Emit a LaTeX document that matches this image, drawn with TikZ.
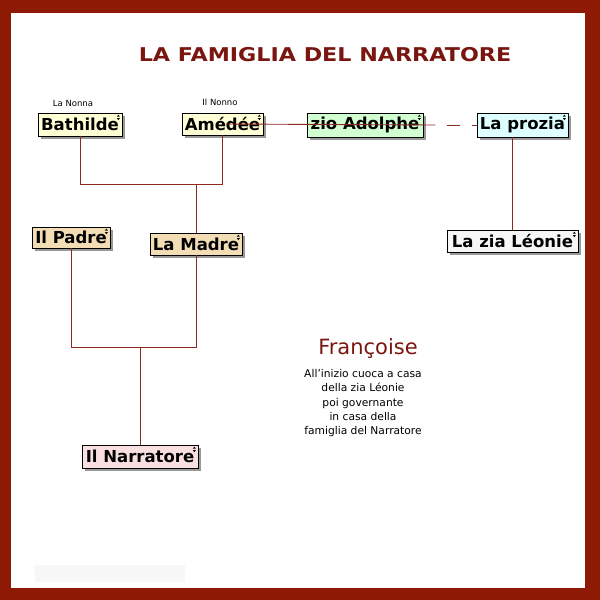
\documentclass[tikz,border=0pt]{standalone}
\usepackage{fontspec}
\setmainfont{DejaVu Sans}
\usetikzlibrary{shadows}
\definecolor{framered}{HTML}{8E1A06}
\definecolor{titlered}{HTML}{7A1610}
\definecolor{linkred}{HTML}{8B2A20}
\definecolor{fyellow}{HTML}{FFFFD6}
\definecolor{fgreen}{HTML}{D2FFD2}
\definecolor{fcyan}{HTML}{DEFFFF}
\definecolor{fwheat}{HTML}{F3DDB5}
\definecolor{fwhite}{HTML}{F6F6F6}
\definecolor{fpink}{HTML}{F9DFDF}
\newcommand\rzicon[1]{%
  \fill ([xshift=-4pt,yshift=-2pt]#1.north east) -- ++(-1.5,2) -- ++(3,0) -- cycle;
  \fill ([xshift=-4pt,yshift=-7.5pt]#1.north east) -- ++(-1.5,-2) -- ++(3,0) -- cycle;}
\begin{document}
\begin{tikzpicture}[x=1pt,y=-1pt,
  person/.style={draw=black, line width=0.7pt, inner sep=0pt,
    font=\bfseries\fontsize{16.5}{16.5}\selectfont,
    drop shadow={shadow xshift=2.5pt, shadow yshift=-2.5pt, fill=black!40, opacity=1}},
  link/.style={draw=linkred, line width=0.9pt},
  small/.style={font=\fontsize{8.5}{10}\selectfont},
  ]
\fill[framered] (0,0) rectangle (600,600);
\fill[white] (11,13) rectangle (585,588);
\fill[black!3] (35,565) rectangle (185,582);
\useasboundingbox (0,0) rectangle (600,600);

\node[font=\bfseries\fontsize{19}{19}\selectfont, text=titlered] (title) at (325,55) {\scalebox{1.17}[1]{LA FAMIGLIA DEL NARRATORE}};

\node[small] (nonna) at (73,103) {La Nonna};
\node[small] (nonno) at (220,102) {Il Nonno};

\node[person, fill=fyellow, minimum width=84pt, minimum height=23pt] (bat) at (80,124.5) {Bathilde};
\node[person, fill=fyellow, minimum width=81pt, minimum height=22pt] (ame) at (222.5,124) {Amédée};
\node[person, fill=fgreen, minimum width=116pt, minimum height=24pt] (adol) at (365,125) {zio Adolphe};
\node[person, fill=fcyan, minimum width=91pt, minimum height=24pt] (proz) at (522.5,125) {La prozia};
\node[person, fill=fwheat, minimum width=78pt, minimum height=21pt] (padre) at (71,237.5) {Il Padre};
\node[person, fill=fwheat, minimum width=92pt, minimum height=22pt] (madre) at (196,244) {La Madre};
\node[person, fill=fwhite, minimum width=131pt, minimum height=22pt] (zia) at (512.5,241) {La zia Léonie};
\node[person, fill=fpink, minimum width=116pt, minimum height=23pt] (nar) at (140,456.5) {Il Narratore};

\foreach \n in {bat,ame,adol,proz,padre,madre,zia,nar} {\rzicon{\n}}

% connectors
\coordinate (j1) at (196,184);
\coordinate (j2) at (140,347);
\draw[link] (bat.south) -- (bat.south |- j1) -- (ame.south |- j1) -- (ame.south);
\draw[link] (j1) -- (madre.north);
\draw[link] (padre.south) -- (padre.south |- j2) -- (madre.south |- j2) -- (madre.south);
\draw[link] (j2) -- (nar.north);
\draw[link] ([xshift=3pt]ame.center) -- ([xshift=12pt]adol.east);
\draw[link] ([xshift=24pt]adol.east) -- ([xshift=37pt]adol.east);
\draw[link] ([xshift=-5pt]proz.west) -- (proz.west);
\draw[link] (zia.north |- proz.south) -- (zia.north);

% Francoise
\node[font=\fontsize{21}{21}\selectfont, text=titlered] (fr) at (368,349) {Françoise};
\node[font=\fontsize{10.7}{14.25}\selectfont, align=center, anchor=north] (frtxt) at (363,366)
  {All'inizio cuoca a casa\\della zia Léonie\\poi governante\\in casa della\\famiglia del Narratore};
\end{tikzpicture}
\end{document}
